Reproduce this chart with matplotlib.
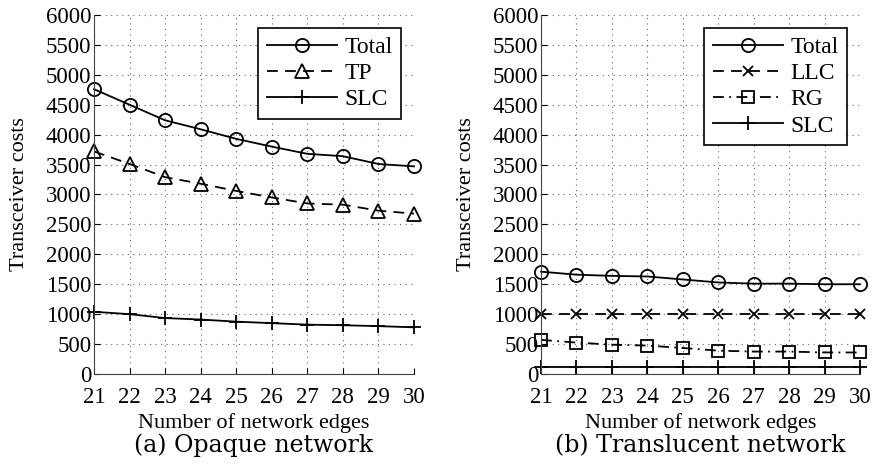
import numpy as np
import matplotlib
matplotlib.use('Agg')
import matplotlib.pyplot as plt

# edges on the x axis
edges = np.arange(21, 31)

# (a) opaque network
opq_total = [4760, 4500, 4240, 4090, 3930, 3800, 3680, 3640, 3510, 3470]
opq_tp = [3720, 3510, 3290, 3180, 3060, 2950, 2850, 2830, 2730, 2680]
opq_slc = [1040, 1000, 935, 910, 875, 850, 825, 815, 800, 780]

# (b) translucent network
trl_total = [1710, 1660, 1640, 1630, 1580, 1530, 1510, 1510, 1500, 1500]
trl_llc = [1000, 1000, 1000, 1000, 1000, 1000, 1000, 1000, 1000, 1000]
trl_rg = [570, 525, 490, 475, 435, 390, 375, 375, 360, 360]
trl_slc = [110, 110, 110, 110, 110, 110, 110, 110, 110, 110]

yticks = np.arange(0, 6001, 500)

plt.rcParams['font.family'] = ['Liberation Serif', 'DejaVu Serif']

fig = plt.figure(figsize=(8.73, 4.73), dpi=100)
ax_a = fig.add_axes([0.1077, 0.2093, 0.3665, 0.7590])
ax_b = fig.add_axes([0.6197, 0.2093, 0.3654, 0.7590])

lw = 1.3
ms = 9.5
common = dict(color='black', linewidth=lw, markerfacecolor='none',
              markeredgecolor='black', markeredgewidth=1.3, clip_on=False)

ax_a.plot(edges, opq_total, linestyle='-', marker='o', markersize=ms, label='Total', **common)
ax_a.plot(edges, opq_tp, linestyle=(0, (6, 4)), marker='^', markersize=ms + 1, label='TP', **common)
ax_a.plot(edges, opq_slc, linestyle='-', marker='+', markersize=ms + 1, label='SLC', **common)

ax_b.plot(edges, trl_total, linestyle='-', marker='o', markersize=ms, label='Total', **common)
ax_b.plot(edges, trl_llc, linestyle=(0, (6, 4)), marker='x', markersize=ms - 2, label='LLC', **common)
ax_b.plot(edges, trl_rg, linestyle=(0, (6, 3, 1, 3)), marker='s', markersize=ms - 1, label='RG', **common)
ax_b.plot(edges, trl_slc, linestyle='-', marker='+', markersize=ms + 1, label='SLC', **common)

for ax, cap in [(ax_a, '(a) Opaque network'), (ax_b, '(b) Translucent network')]:
    ax.set_xlim(21, 30)
    ax.set_ylim(0, 6000)
    ax.set_xticks(edges)
    ax.set_yticks(yticks)
    ax.grid(True, linestyle=(0, (1, 4)), color='#666666', linewidth=0.8)
    ax.spines['top'].set_visible(False)
    ax.spines['right'].set_visible(False)
    ax.spines['left'].set_color('#444444')
    ax.spines['bottom'].set_color('#444444')
    ax.tick_params(direction='in', length=4, labelsize=16.5)
    ax.tick_params(axis='x', pad=9)
    ax.tick_params(axis='y', pad=2)
    ax.set_xlabel('Number of network edges', fontsize=16, labelpad=4)
    ax.set_ylabel('Transceiver costs', fontsize=16, labelpad=12)
    leg = ax.legend(loc='upper right', fontsize=17, frameon=True, fancybox=False,
                    edgecolor='black', handlelength=3.0, borderpad=0.35,
                    labelspacing=0.2, handletextpad=0.3, borderaxespad=0.55)
    leg.get_frame().set_linewidth(1.2)
    leg.get_frame().set_alpha(1)
    pos = ax.get_position()
    fig.text((pos.x0 + pos.x1) / 2, 0.058, cap, ha='center', va='center',
             fontsize=17, family=['DejaVu Serif'])

fig.savefig('out.png', dpi=100)
